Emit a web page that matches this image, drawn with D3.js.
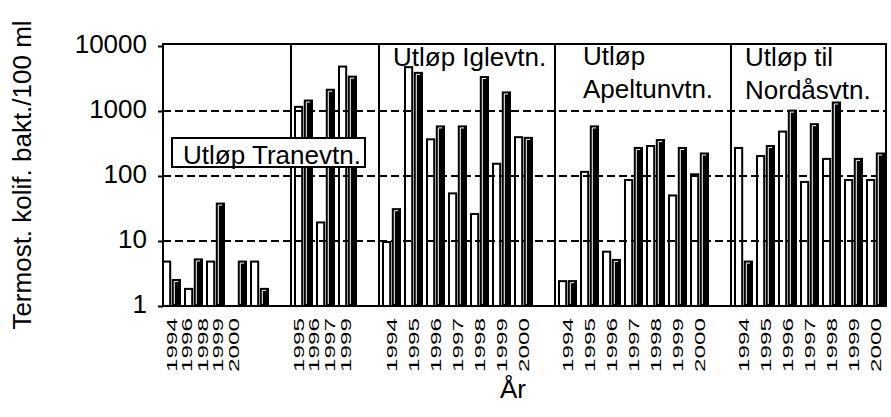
<!DOCTYPE html>
<html>
<head>
<meta charset="utf-8">
<script src="https://cdn.jsdelivr.net/npm/d3@7"></script>
<style>
  body { margin: 0; background: #fff; }
  text { font-family: "Liberation Sans", Arial, Helvetica, sans-serif; fill: #000; }
</style>
</head>
<body>
<svg id="chart" width="891" height="417"></svg>
<script>
// Thermotolerant coliform bacteria per 100 ml at five outlets, two samples per year
// (open bar = first sample, filled bar = second sample). null = no sample.
const tranevtnYears = ["1994", "1996", "1998", "1999", "2000"];
const tranevtnOpen  = [5, 1.9, 5, null, 5];
const tranevtnFill  = [2.6, 5.4, 39, 5, 1.9];
const tranevtnTicks = ["1994", "1996", "1998", "1999", "2000"];

const unnamedYears = ["1995", "1997", "1999"];
const unnamedOpen  = [1200, 20, 5000];
const unnamedFill  = [1500, 2200, 3500];
const unnamedTicks = ["1995", "1996", "1997", "1999"];

const iglevtnYears = ["1994", "1995", "1996", "1997", "1998", "1999", "2000"];
const iglevtnOpen  = [10, 4900, 380, 56, 27, 160, 410];
const iglevtnFill  = [32, 4000, 600, 600, 3450, 2000, 400];

const apeltunYears = ["1994", "1995", "1996", "1997", "1998", "1999", "2000"];
const apeltunOpen  = [2.5, 120, 7.1, 90, 300, 52, 110];
const apeltunFill  = [2.5, 600, 5.3, 280, 370, 280, 230];

const nordasYears = ["1994", "1995", "1996", "1997", "1998", "1999", "2000"];
const nordasOpen  = [280, 210, 500, 84, 190, 90, 90];
const nordasFill  = [5, 300, 1050, 650, 1400, 190, 230];

const yTickValues = [1, 10, 100, 1000, 10000];
const gridValues  = [10, 100, 1000];

// tickStep: spacing of the year labels (null = one label per bar slot)
const panels = [
  { id: "T", years: tranevtnYears, open: tranevtnOpen, fill: tranevtnFill, ticks: tranevtnTicks, tickStep: 15.6, tickShift: 0 },
  { id: "U", years: unnamedYears,  open: unnamedOpen,  fill: unnamedFill,  ticks: unnamedTicks,  tickStep: 15.8, tickShift: -5 },
  { id: "I", years: iglevtnYears,  open: iglevtnOpen,  fill: iglevtnFill,  ticks: iglevtnYears,  tickStep: null },
  { id: "A", years: apeltunYears,  open: apeltunOpen,  fill: apeltunFill,  ticks: apeltunYears,  tickStep: null },
  { id: "N", years: nordasYears,   open: nordasOpen,   fill: nordasFill,   ticks: nordasYears,   tickStep: null }
];

// One slot per year, plus an empty spacer slot after every outlet but the last.
const slots = [];
panels.forEach((p, i) => {
  p.years.forEach(yr => slots.push(p.id + yr));
  if (i < panels.length - 1) slots.push(p.id + "gap");
});

const svg = d3.select("#chart");
const plot = { left: 163, right: 886, top: 44, bottom: 306 };

const x = d3.scaleBand().domain(slots)
  .range([160.5, 886.5]).paddingInner(0.136).paddingOuter(0.068);
const xs = d3.scaleBand().domain(["open", "fill"])
  .range([0, x.bandwidth()]).paddingInner(0.06);
const y = d3.scaleLog().domain([1, 10000]).range([306, 46]);

// dashed grid
svg.append("g").selectAll("line").data(gridValues).join("line")
  .attr("x1", plot.left).attr("x2", plot.right)
  .attr("y1", d => y(d)).attr("y2", d => y(d))
  .attr("stroke", "#000").attr("stroke-width", 2)
  .attr("stroke-dasharray", "8,4");

// bars
const barData = [];
panels.forEach(p => p.years.forEach((yr, i) => {
  if (p.open[i] != null) barData.push({ slot: p.id + yr, s: "open", v: p.open[i] });
  if (p.fill[i] != null) barData.push({ slot: p.id + yr, s: "fill", v: p.fill[i] });
}));

const gBars = svg.append("g");
barData.forEach(d => {
  const bx = x(d.slot) + xs(d.s), bw = xs.bandwidth();
  const top = y(d.v), base = y(1);
  if (d.s === "open") {
    gBars.append("rect")
      .attr("x", bx + 1).attr("y", top + 1)
      .attr("width", bw - 2).attr("height", base - top - 1)
      .attr("fill", "none").attr("stroke", "#000").attr("stroke-width", 2);
  } else {
    gBars.append("rect")
      .attr("x", bx).attr("y", top)
      .attr("width", bw).attr("height", base - top)
      .attr("fill", "#000");
    gBars.append("path")
      .attr("d", `M${bx + 2.5},${base - 2} V${top + 2.5} H${bx + bw - 3}`)
      .attr("fill", "none").attr("stroke", "#fff").attr("stroke-width", 1);
  }
});

// outlet separators
panels.slice(1).forEach(p => {
  const sx = x(p.id + p.years[0]) - 3;
  svg.append("line").attr("x1", sx).attr("x2", sx)
    .attr("y1", plot.top).attr("y2", plot.bottom)
    .attr("stroke", "#000").attr("stroke-width", 2);
});

// frame
svg.append("rect")
  .attr("x", plot.left).attr("y", plot.top)
  .attr("width", plot.right - plot.left).attr("height", plot.bottom - plot.top)
  .attr("fill", "none").attr("stroke", "#000").attr("stroke-width", 2);

// y axis
const yAxis = svg.append("g").attr("transform", `translate(${plot.left},0)`)
  .call(d3.axisLeft(y).tickValues(yTickValues).tickFormat(d3.format("d"))
    .tickSize(5).tickPadding(11));
yAxis.select(".domain").remove();
yAxis.selectAll("line").attr("stroke", "#000").attr("stroke-width", 2);
yAxis.selectAll("text")
  .style("font-family", '"Liberation Sans", Arial, sans-serif')
  .attr("font-size", 26).attr("dy", "0.24em");

// year labels, rotated
const gYears = svg.append("g");
panels.forEach(p => {
  const c0 = x(p.id + p.years[0]) + x.bandwidth() / 2 + (p.tickShift || 0);
  const pos = p.tickStep == null
    ? (yr => x(p.id + yr) + x.bandwidth() / 2)
    : d3.scalePoint().domain(p.ticks).range([c0, c0 + p.tickStep * (p.ticks.length - 1)]);
  p.ticks.forEach(yr => {
    gYears.append("text")
      .attr("transform", `translate(${pos(yr) + 5},318) rotate(-90)`)
      .attr("text-anchor", "end")
      .attr("font-size", 14)
      .attr("textLength", 54).attr("lengthAdjust", "spacingAndGlyphs")
      .text(yr);
  });
});

// outlet names
svg.append("rect").attr("x", 172).attr("y", 138).attr("width", 193).attr("height", 29)
  .attr("fill", "#fff").attr("stroke", "#000").attr("stroke-width", 2);
svg.append("text").attr("x", 183).attr("y", 164).attr("font-size", 26)
  .attr("textLength", 178).attr("lengthAdjust", "spacingAndGlyphs")
  .text("Utløp Tranevtn.");
svg.append("text").attr("x", 393).attr("y", 66).attr("font-size", 26)
  .text("Utløp Iglevtn.");
svg.append("text").attr("x", 583).attr("y", 65).attr("font-size", 26).text("Utløp");
svg.append("text").attr("x", 583).attr("y", 98).attr("font-size", 26).text("Apeltunvtn.");
svg.append("text").attr("x", 745).attr("y", 66).attr("font-size", 26).text("Utløp til");
svg.append("text").attr("x", 745).attr("y", 99).attr("font-size", 26).text("Nordåsvtn.");

// axis titles
svg.append("text").attr("x", 513).attr("y", 398).attr("text-anchor", "middle")
  .attr("font-size", 26).text("År");
svg.append("text")
  .attr("transform", "translate(31,175) rotate(-90)")
  .attr("text-anchor", "middle").attr("font-size", 26)
  .text("Termost. kolif. bakt./100 ml");
</script>
</body>
</html>
